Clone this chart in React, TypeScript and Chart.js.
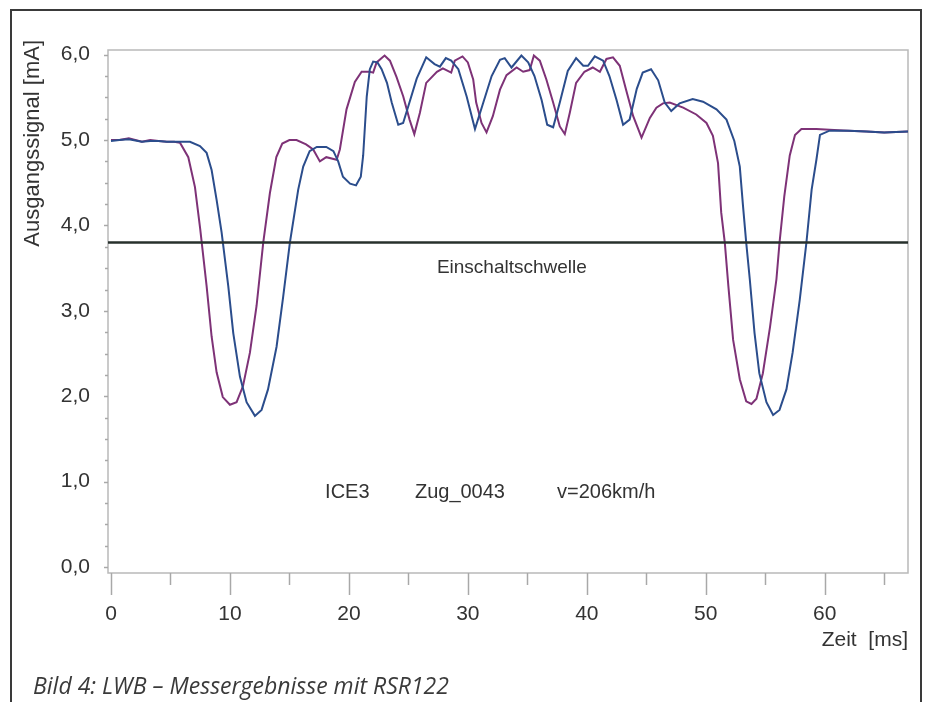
import React, { useEffect, useRef } from 'react';
import { Chart, registerables } from 'chart.js';

Chart.register(...registerables);

// ---- data (time in ms, signal in mA) ----
const purpleTime = [0, 0.7, 1.5, 2.6, 3.3, 4.0, 4.7, 5.3, 5.8, 6.5, 7.06, 7.5, 8.04, 8.46, 8.88, 9.4, 10.0, 10.56, 11.1, 11.68, 12.24, 12.8, 13.36, 13.9, 14.4, 15.0, 15.6, 16.4, 17.0, 17.56, 18.1, 18.97, 19.24, 19.8, 20.5, 21.07, 21.76, 22.04, 22.33, 23.0, 23.45, 24.0, 24.57, 25.1, 25.5, 25.97, 26.5, 27.4, 27.9, 28.6, 28.9, 29.55, 30.0, 30.45, 30.7, 31.15, 31.57, 32.1, 32.7, 33.25, 34.1, 34.65, 35.2, 35.55, 36.05, 36.6, 37.17, 37.73, 38.15, 38.57, 39.1, 39.8, 40.5, 41.1, 41.65, 42.2, 42.77, 43.3, 43.9, 44.6, 45.3, 45.85, 46.4, 46.97, 48.1, 49.2, 50.06, 50.6, 51.03, 51.3, 51.6, 51.9, 52.3, 52.86, 53.4, 53.84, 54.26, 54.8, 55.4, 55.94, 56.2, 56.6, 57.06, 57.5, 58.04, 59.3, 60.4, 62.0, 63.5, 65.0, 67.0];
const purpleSignal = [5.0, 5.0, 5.02, 4.98, 5.0, 4.99, 4.98, 4.98, 4.97, 4.8, 4.45, 3.96, 3.29, 2.7, 2.28, 1.99, 1.9, 1.93, 2.12, 2.51, 3.06, 3.8, 4.38, 4.8, 4.96, 5.0, 5.0, 4.95, 4.89, 4.75, 4.8, 4.77, 4.89, 5.36, 5.68, 5.8, 5.8, 5.79, 5.91, 5.99, 5.93, 5.74, 5.51, 5.24, 5.07, 5.32, 5.67, 5.8, 5.84, 5.79, 5.93, 5.98, 5.91, 5.71, 5.44, 5.2, 5.09, 5.28, 5.59, 5.76, 5.85, 5.8, 5.82, 5.99, 5.93, 5.71, 5.44, 5.16, 5.07, 5.32, 5.67, 5.8, 5.85, 5.8, 5.95, 5.97, 5.87, 5.59, 5.28, 5.03, 5.26, 5.38, 5.43, 5.44, 5.38, 5.3, 5.2, 5.05, 4.73, 4.15, 3.8, 3.29, 2.66, 2.2, 1.94, 1.91, 1.97, 2.27, 2.81, 3.37, 3.8, 4.34, 4.82, 5.06, 5.13, 5.13, 5.12, 5.11, 5.1, 5.09, 5.1];

const blueTime = [0, 0.7, 1.5, 2.6, 3.3, 4.0, 4.7, 5.3, 6.0, 6.64, 7.48, 8.04, 8.46, 8.88, 9.3, 9.86, 10.28, 10.84, 11.4, 12.1, 12.66, 13.2, 13.92, 14.48, 15.04, 15.74, 16.16, 16.7, 17.3, 18.1, 18.7, 19.1, 19.5, 20.1, 20.6, 21.0, 21.2, 21.5, 21.76, 22.04, 22.4, 22.75, 23.2, 23.6, 24.15, 24.56, 25.0, 25.7, 26.5, 27.2, 27.65, 28.15, 28.6, 29.2, 29.9, 30.6, 31.3, 32.0, 32.7, 33.1, 33.67, 34.5, 35.07, 35.6, 36.2, 36.67, 37.17, 37.73, 38.4, 39.1, 39.7, 40.1, 40.67, 41.37, 41.9, 42.5, 43.05, 43.6, 44.2, 44.7, 45.4, 46.0, 46.55, 47.1, 47.8, 48.9, 49.77, 50.9, 51.74, 52.4, 52.86, 53.13, 53.4, 53.7, 54.1, 54.5, 55.1, 55.66, 56.2, 56.78, 57.3, 57.9, 58.46, 58.9, 59.3, 59.6, 60.4, 62.0, 63.5, 65.0, 67.0];
const blueSignal = [4.99, 5.0, 5.01, 4.98, 4.99, 4.99, 4.98, 4.98, 4.98, 4.98, 4.93, 4.85, 4.65, 4.3, 3.92, 3.29, 2.74, 2.23, 1.93, 1.77, 1.84, 2.08, 2.58, 3.17, 3.8, 4.42, 4.69, 4.87, 4.92, 4.92, 4.87, 4.75, 4.57, 4.49, 4.47, 4.57, 4.82, 5.51, 5.83, 5.92, 5.91, 5.83, 5.67, 5.44, 5.18, 5.2, 5.4, 5.72, 5.97, 5.89, 5.86, 5.96, 5.93, 5.83, 5.51, 5.13, 5.44, 5.75, 5.94, 5.96, 5.85, 5.99, 5.91, 5.75, 5.47, 5.18, 5.15, 5.44, 5.81, 5.96, 5.87, 5.87, 5.98, 5.93, 5.75, 5.47, 5.18, 5.24, 5.6, 5.79, 5.83, 5.7, 5.44, 5.34, 5.43, 5.48, 5.45, 5.36, 5.24, 4.99, 4.69, 4.23, 3.8, 3.37, 2.74, 2.27, 1.93, 1.78, 1.84, 2.08, 2.51, 3.13, 3.8, 4.42, 4.77, 5.06, 5.11, 5.11, 5.1, 5.09, 5.1];

const thresholdValue = 3.8;
const thresholdLabel = 'Einschaltschwelle';

const xLabelValues = [0, 10, 20, 30, 40, 50, 60];
const xMinorTickValues = [5, 15, 25, 35, 45, 55, 65];
const yLabelValues = [0, 1, 2, 3, 4, 5, 6];
const yMinorTickValues = [0.25, 0.5, 0.75, 1.25, 1.5, 1.75, 2.25, 2.5, 2.75, 3.25, 3.5, 3.75, 4.25, 4.5, 4.75, 5.25, 5.5, 5.75];

const xTitle = 'Zeit  [ms]';
const yTitle = 'Ausgangssignal [mA]';
const infoTexts = ['ICE3', 'Zug_0043', 'v=206km/h'];
const infoTimes = [18.0, 25.55, 37.5];
const infoLevel = 0.87;
const caption = 'Bild 4: LWB \u2013 Messergebnisse mit RSR122';

const FONT = "'Liberation Sans', Arial, Helvetica, sans-serif";
const TEXT = '#333333';

const decorPlugin = {
  id: 'decor',
  beforeDatasetsDraw(chart: any) {
    const { ctx, chartArea } = chart;
    const xs = chart.scales.x;
    const ys = chart.scales.y;
    ctx.save();
    ctx.strokeStyle = '#b9b9b9';
    ctx.lineWidth = 1.5;
    ctx.strokeRect(chartArea.left, chartArea.top, chartArea.right - chartArea.left, chartArea.bottom - chartArea.top);
    ctx.strokeStyle = '#a8a8a8';
    ctx.lineWidth = 1.5;
    const drawX = (v: number, len: number) => {
      const px = Math.round(xs.getPixelForValue(v)) + 0.5;
      ctx.beginPath();
      ctx.moveTo(px, chartArea.bottom);
      ctx.lineTo(px, chartArea.bottom + len);
      ctx.stroke();
    };
    xLabelValues.forEach((v) => drawX(v, 22));
    xMinorTickValues.forEach((v) => drawX(v, 12));
    const drawY = (v: number, len: number) => {
      const py = Math.round(ys.getPixelForValue(v)) + 0.5;
      ctx.beginPath();
      ctx.moveTo(chartArea.left - len, py);
      ctx.lineTo(chartArea.left, py);
      ctx.stroke();
    };
    yLabelValues.forEach((v) => drawY(v, 4));
    yMinorTickValues.forEach((v) => drawY(v, 3));
    ctx.restore();
  },
  afterDraw(chart: any) {
    const { ctx } = chart;
    const xs = chart.scales.x;
    const ys = chart.scales.y;
    ctx.save();
    ctx.fillStyle = TEXT;
    ctx.font = `22px ${FONT}`;
    ctx.save();
    ctx.translate(33, 40);
    ctx.rotate(-Math.PI / 2);
    ctx.textAlign = 'right';
    ctx.textBaseline = 'middle';
    ctx.fillText(yTitle, 0, 0);
    ctx.restore();
    ctx.font = `19px ${FONT}`;
    ctx.textAlign = 'center';
    ctx.textBaseline = 'middle';
    ctx.fillText(thresholdLabel, xs.getPixelForValue(33.7), ys.getPixelForValue(3.505));
    ctx.font = `20px ${FONT}`;
    ctx.textAlign = 'left';
    infoTexts.forEach((t, i) => {
      ctx.fillText(t, xs.getPixelForValue(infoTimes[i]), ys.getPixelForValue(infoLevel));
    });
    ctx.font = `italic 23px 'Open Sans', 'Noto Sans', sans-serif`;
    ctx.textAlign = 'left';
    ctx.textBaseline = 'alphabetic';
    ctx.fillStyle = '#3a3a3a';
    ctx.fillText(caption, 33, 694);
    ctx.restore();
  },
};

export default function App() {
  const canvasRef = useRef<HTMLCanvasElement | null>(null);

  useEffect(() => {
    if (!canvasRef.current) return;
    const chart = new Chart(canvasRef.current, {
      type: 'line',
      data: {
        datasets: [
          {
            label: 'Threshold',
            data: [
              { x: -0.25, y: thresholdValue },
              { x: 67, y: thresholdValue },
            ],
            borderColor: '#27302c',
            borderWidth: 2.5,
            pointRadius: 0,
            tension: 0,
            order: 0,
          },
          {
            label: 'Blue',
            data: blueTime.map((t, i) => ({ x: t, y: blueSignal[i] })),
            borderColor: '#2b4d8c',
            borderWidth: 2,
            pointRadius: 0,
            tension: 0,
            order: 1,
          },
          {
            label: 'Purple',
            data: purpleTime.map((t, i) => ({ x: t, y: purpleSignal[i] })),
            borderColor: '#7e3277',
            borderWidth: 2,
            pointRadius: 0,
            tension: 0,
            order: 2,
          },
        ],
      },
      options: {
        animation: false,
        responsive: false,
        devicePixelRatio: 1,
        events: [],
        layout: { padding: { top: 50, right: 20, left: 0, bottom: 0 } },
        plugins: {
          legend: { display: false },
          tooltip: { enabled: false },
        },
        scales: {
          x: {
            type: 'linear',
            min: -0.25,
            max: 67,
            afterBuildTicks: (s: any) => {
              s.ticks = xLabelValues.map((v) => ({ value: v }));
            },
            afterFit: (s: any) => {
              s.height = 129;
            },
            ticks: {
              autoSkip: false,
              maxRotation: 0,
              padding: 29,
              color: TEXT,
              font: { family: FONT, size: 21 },
              callback: (v: any) => String(v),
            },
            grid: { display: false, drawTicks: false },
            border: { display: false },
            title: {
              display: true,
              text: xTitle,
              align: 'end',
              color: TEXT,
              font: { family: FONT, size: 21 },
              padding: { top: 0, bottom: 49 },
            },
          },
          y: {
            type: 'linear',
            min: -0.07,
            max: 6.055,
            afterBuildTicks: (s: any) => {
              s.ticks = yLabelValues.map((v) => ({ value: v }));
            },
            afterFit: (s: any) => {
              s.width = 108;
            },
            ticks: {
              autoSkip: false,
              padding: 18,
              color: TEXT,
              font: { family: FONT, size: 21 },
              callback: (v: any) => Number(v).toFixed(1).replace('.', ','),
            },
            grid: { display: false, drawTicks: false },
            border: { display: false },
          },
        },
      },
      plugins: [decorPlugin],
    } as any);
    return () => chart.destroy();
  }, []);

  return (
    <div style={{ position: 'fixed', left: 0, top: 0, width: 928, height: 702, background: '#fff', overflow: 'hidden' }}>
      <div
        style={{
          position: 'absolute',
          left: 10,
          top: 9,
          width: 908,
          height: 760,
          border: '2px solid #3a3a3a',
          boxSizing: 'content-box',
        }}
      />
      <canvas ref={canvasRef} width={928} height={702} style={{ position: 'absolute', left: 0, top: 0, display: 'block' }} />
    </div>
  );
}
